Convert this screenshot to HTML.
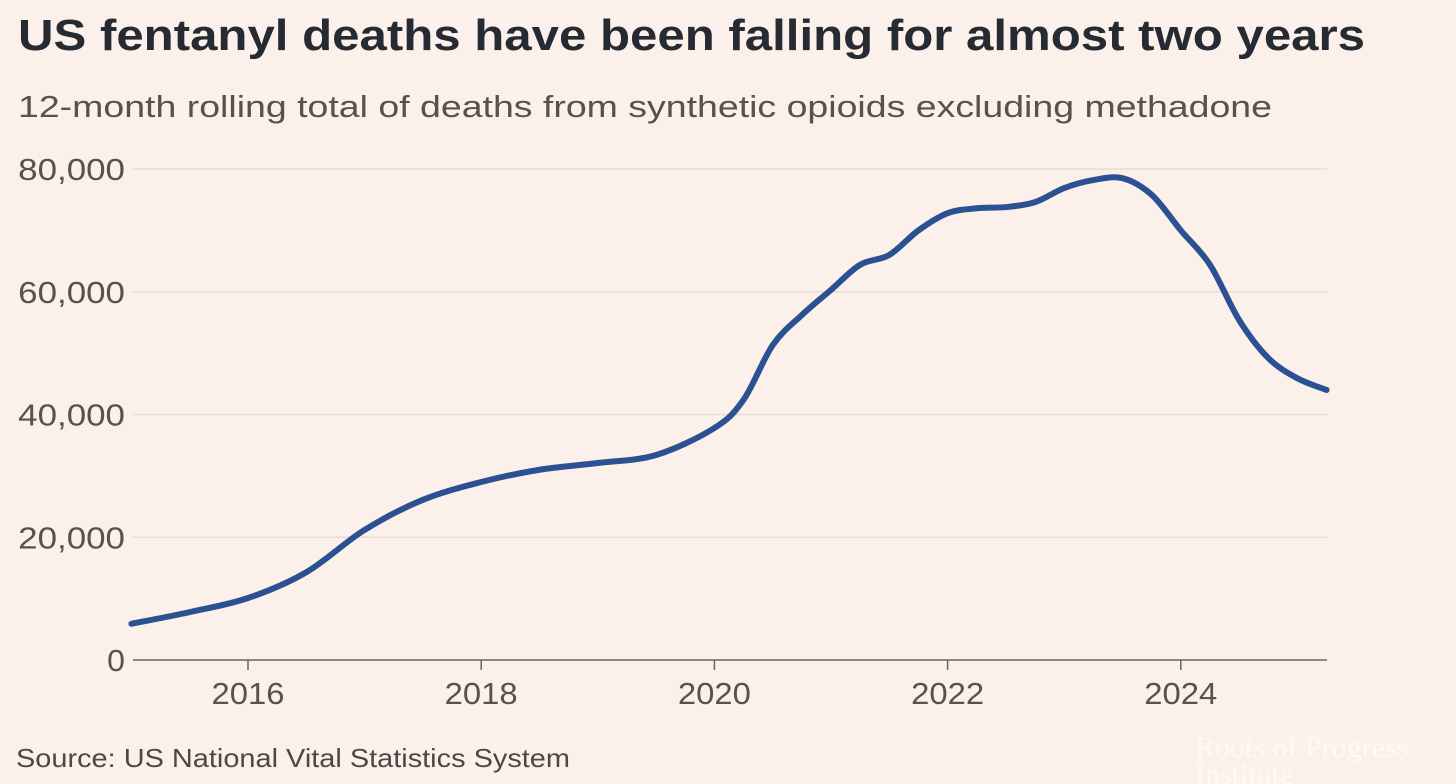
<!DOCTYPE html>
<html><head><meta charset="utf-8"><style>
html,body{margin:0;padding:0;background:#fcf1ea;}
svg{display:block;font-family:"Liberation Sans",sans-serif;}
</style></head><body>
<svg id="chart" width="1456" height="784" viewBox="0 0 1456 784">
<rect width="1456" height="784" fill="#fcf1ea"/>
<text x="18" y="50" font-size="44" font-weight="bold" fill="#262a33" textLength="1347" lengthAdjust="spacingAndGlyphs">US fentanyl deaths have been falling for almost two years</text>
<text x="18" y="117" font-size="31" fill="#57524e" textLength="1254" lengthAdjust="spacingAndGlyphs">12-month rolling total of deaths from synthetic opioids excluding methadone</text>
<g id="grid"></g>
<g id="yticks"></g>
<g id="xticks"></g>
<path id="line" fill="none" stroke="#2b5192" stroke-width="6" stroke-linejoin="round" stroke-linecap="round"/>
<text x="16" y="767" font-size="26" fill="#4d4845" textLength="554" lengthAdjust="spacingAndGlyphs">Source: US National Vital Statistics System</text>
<text x="1195" y="757" font-size="30" fill="#ffffff" fill-opacity="0.6" font-family="Liberation Serif, serif">Roots of Progress</text>
<text x="1195" y="784" font-size="30" fill="#ffffff" fill-opacity="0.6" font-family="Liberation Serif, serif">Institute</text>
</svg>
<script>
const years = [2015.0,2015.5,2016.0,2016.5,2017.0,2017.5,2018.0,2018.5,2019.0,2019.5,2020.0,2020.25,2020.5,2020.75,2021.0,2021.25,2021.5,2021.75,2022.0,2022.25,2022.5,2022.75,2023.0,2023.25,2023.5,2023.75,2024.0,2024.25,2024.5,2024.75,2025.0,2025.25];
const deaths = [5900,7800,10100,14300,21200,26100,29000,31000,32100,33400,37800,42400,51300,56200,60300,64400,66000,70000,72800,73600,73800,74600,76900,78200,78500,75800,70000,64400,55400,49200,45900,44000];
const yTickValues = [0,20000,40000,60000,80000];
const yTickLabels = ["0","20,000","40,000","60,000","80,000"];
const xTickValues = [2016,2018,2020,2022,2024];
const xTickLabels = ["2016","2018","2020","2022","2024"];

const NS="http://www.w3.org/2000/svg";
const x = v => 248 + (v-2016)*116.6;
const y = v => 660 - v/80000*491;
const X0=133, X1=1327;

const grid=document.getElementById('grid'), yt=document.getElementById('yticks'), xt=document.getElementById('xticks');
yTickValues.forEach((v,i)=>{
  const l=document.createElementNS(NS,'line');
  l.setAttribute('x1',X0);l.setAttribute('x2',X1);l.setAttribute('y1',y(v));l.setAttribute('y2',y(v));
  l.setAttribute('stroke', v===0?'#6b6560':'#e8ddd4');l.setAttribute('stroke-width',1.5);
  
  
  grid.appendChild(l);
  const t=document.createElementNS(NS,'text');
  t.setAttribute('x',125);t.setAttribute('y',y(v)+11);t.setAttribute('font-size','31');t.setAttribute('fill','#57524e');t.setAttribute('text-anchor','end');
  t.setAttribute('textLength', String(yTickLabels[i].length*17.8));
  t.setAttribute('lengthAdjust','spacingAndGlyphs');
  t.textContent=yTickLabels[i];
  
  
  yt.appendChild(t);
});
xTickValues.forEach((v,i)=>{
  const l=document.createElementNS(NS,'line');
  l.setAttribute('x1',x(v));l.setAttribute('x2',x(v));l.setAttribute('y1',660);l.setAttribute('y2',670);
  l.setAttribute('stroke','#6b6560');l.setAttribute('stroke-width',1.5);
  
  
  xt.appendChild(l);
  const t=document.createElementNS(NS,'text');
  t.setAttribute('x',x(v));t.setAttribute('y',704);t.setAttribute('font-size','31');t.setAttribute('fill','#57524e');t.setAttribute('text-anchor','middle');
  t.setAttribute('textLength','73');
  t.setAttribute('lengthAdjust','spacingAndGlyphs');
  t.textContent=xTickLabels[i];
  
  
  xt.appendChild(t);
});
const pts=years.map((yr,i)=>[x(yr),y(deaths[i])]);
let d='M'+pts[0][0]+','+pts[0][1];
for(let i=0;i<pts.length-1;i++){
  const p0=pts[Math.max(0,i-1)],p1=pts[i],p2=pts[i+1],p3=pts[Math.min(pts.length-1,i+2)];
  const c1=[p1[0]+(p2[0]-p0[0])/6,p1[1]+(p2[1]-p0[1])/6];
  const c2=[p2[0]-(p3[0]-p1[0])/6,p2[1]-(p3[1]-p1[1])/6];
  d+=` C${c1[0]},${c1[1]} ${c2[0]},${c2[1]} ${p2[0]},${p2[1]}`;
}
document.getElementById('line').setAttribute('d',d);
</script>
</body></html>
